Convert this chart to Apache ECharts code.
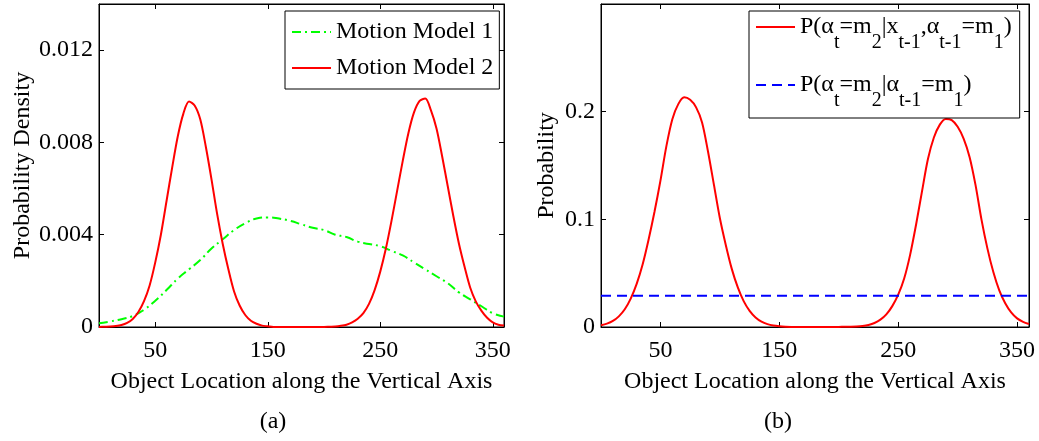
<!DOCTYPE html>
<html>
<head>
<meta charset="utf-8">
<script src="https://cdn.jsdelivr.net/npm/echarts@6/dist/echarts.min.js"></script>
<style>
  html, body { margin: 0; padding: 0; background: #fff; }
  #chart { width: 1039px; height: 441px; }
</style>
</head>
<body>
<div id="chart"></div>
<script>
// sample locations (object location along the vertical axis)
const xsCoarse = [0, 10, 20, 30, 40, 50, 60, 70, 80, 90, 100, 110, 120, 130, 140, 150, 160, 170, 180,
  190, 200, 210, 220, 230, 240, 250, 260, 270, 280, 290, 300, 310, 320, 330, 340, 350, 360]
const xsFine = [0, 5, 10, 15, 20, 25, 30, 35, 40, 45, 50, 55, 60, 65, 70, 75, 80, 85, 90, 95, 100,
  105, 110, 115, 120, 125, 130, 135, 140, 145, 150, 155, 160, 165, 170, 175, 180, 185, 190, 195, 200,
  205, 210, 215, 220, 225, 230, 235, 240, 245, 250, 255, 260, 265, 270, 275, 280, 285, 290, 295, 300,
  305, 310, 315, 320, 325, 330, 335, 340, 345, 350, 355, 360]

// (a) probability densities
const motionModel1 = [0.00016, 0.00024, 0.00034, 0.00048, 0.00075, 0.00114, 0.0016, 0.0021, 0.0025,
  0.0029, 0.0034, 0.0038, 0.0042, 0.0045, 0.0047, 0.00475, 0.0047, 0.0046, 0.00445, 0.0043, 0.0042,
  0.0040, 0.0039, 0.0037, 0.0036, 0.0035, 0.0033, 0.0031, 0.0028, 0.0025, 0.0022, 0.0019, 0.0015,
  0.0012, 0.0009, 0.0006, 0.00045]
const motionModel2 = [0, 0.00001, 0.00002, 0.00004, 0.000085, 0.00018, 0.00035, 0.00065, 0.00112,
  0.0018, 0.0028, 0.0040, 0.00545, 0.0069, 0.00826, 0.00925, 0.00977, 0.0096, 0.0090, 0.0078, 0.0064,
  0.0049, 0.0036, 0.0025, 0.00155, 0.00093, 0.00052, 0.00027, 0.00014, 0.00006, 0.00003, 0, 0, 0,
  0, 0, 0, 0, 0, 0, 0, 0.00001, 0.00002, 0.00005, 0.0001, 0.0002, 0.00036, 0.0006, 0.0010, 0.0016,
  0.0024, 0.0034, 0.0046, 0.0059, 0.0072, 0.0084, 0.0093, 0.0098, 0.0099, 0.0094, 0.0086, 0.0074,
  0.0061, 0.0048, 0.0036, 0.0026, 0.0017, 0.0011, 0.0007, 0.0004, 0.0002, 0.0001, 0.00006]

// (b) switching probabilities
const posterior = [0.0016, 0.0031, 0.0056, 0.0099, 0.0165, 0.0264, 0.040, 0.058, 0.081, 0.107,
  0.136, 0.168, 0.193, 0.207, 0.2133, 0.211, 0.204, 0.19, 0.163, 0.132, 0.101, 0.076, 0.054, 0.037,
  0.024, 0.015, 0.0089, 0.005, 0.0027, 0.0014, 0.0007, 0.0003, 0.0001, 0, 0, 0, 0, 0, 0, 0, 0.0001,
  0.0002, 0.0003, 0.0005, 0.00095, 0.0019, 0.0037, 0.0068, 0.0117, 0.0194, 0.030, 0.045, 0.067,
  0.095, 0.126, 0.156, 0.176, 0.188, 0.1932, 0.1922, 0.186, 0.175, 0.158, 0.132, 0.1, 0.073, 0.051,
  0.034, 0.022, 0.0135, 0.008, 0.0048, 0.0028]
const priorX = [0, 360]
const prior = [0.029, 0.029]

// tick labels
const xTicks = [50, 150, 250, 350]

const FONT = 'Liberation Serif'
const pairs = (x, y) => x.map((v, i) => [v, y[i]])

const nameA1 = 'Motion Model 1'
const nameA2 = 'Motion Model 2'
const nameB1 = 'P(αt=m2|xt-1,αt-1=m1)'
const nameB2 = 'P(αt=m2|αt-1=m1)'

const richLegend = {
  n: { fontFamily: FONT, fontSize: 24, color: '#000' },
  s: { fontFamily: FONT, fontSize: 20, color: '#000', padding: [32, 0, 0, 0] }
}

function bottomX(gridIndex) {
  return {
    type: 'value', gridIndex: gridIndex, min: 0, max: 360,
    name: 'Object Location along the Vertical Axis',
    nameLocation: 'middle', nameGap: 43,
    nameTextStyle: { fontFamily: FONT, fontSize: 24, color: '#000' },
    axisLine: { show: true, onZero: false, lineStyle: { color: '#000', width: 1 } },
    axisTick: { show: true, inside: true, length: 5, customValues: xTicks, lineStyle: { color: '#000' } },
    axisLabel: { customValues: xTicks, fontFamily: FONT, fontSize: 24, color: '#000', margin: 12 },
    splitLine: { show: false }
  }
}
function topX(gridIndex) {
  return {
    type: 'value', gridIndex: gridIndex, min: 0, max: 360, position: 'top',
    axisLine: { show: true, onZero: false, lineStyle: { color: '#000', width: 1 } },
    axisTick: { show: true, inside: true, length: 5, customValues: xTicks, lineStyle: { color: '#000' } },
    axisLabel: { show: false },
    splitLine: { show: false }
  }
}
function leftY(gridIndex, max, interval, name, gap) {
  return {
    type: 'value', gridIndex: gridIndex, min: 0, max: max, interval: interval,
    name: name, nameLocation: 'middle', nameGap: gap,
    nameTextStyle: { fontFamily: FONT, fontSize: 24, color: '#000' },
    axisLine: { show: true, onZero: false, lineStyle: { color: '#000', width: 1 } },
    axisTick: { show: true, inside: true, length: 5, lineStyle: { color: '#000' } },
    axisLabel: { fontFamily: FONT, fontSize: 24, color: '#000', margin: 6, showMaxLabel: false },
    splitLine: { show: false }
  }
}
function rightY(gridIndex, max, interval) {
  return {
    type: 'value', gridIndex: gridIndex, min: 0, max: max, interval: interval, position: 'right',
    axisLine: { show: true, onZero: false, lineStyle: { color: '#000', width: 1 } },
    axisTick: { show: true, inside: true, length: 5, lineStyle: { color: '#000' } },
    axisLabel: { show: false },
    splitLine: { show: false }
  }
}

const chart = echarts.init(document.getElementById('chart'))
chart.setOption({
  animation: false,
  backgroundColor: '#fff',
  grid: [
    { left: 99, top: 4, width: 405, height: 323, show: true, borderColor: '#000', borderWidth: 1 },
    { left: 601, top: 4, width: 428, height: 323, show: true, borderColor: '#000', borderWidth: 1 }
  ],
  xAxis: [bottomX(0), topX(0), bottomX(1), topX(1)],
  yAxis: [
    leftY(0, 0.014, 0.004, 'Probability Density', 64),
    rightY(0, 0.014, 0.004),
    leftY(1, 0.3, 0.1, 'Probability', 42),
    rightY(1, 0.3, 0.1)
  ],
  legend: [
    {
      data: [nameA1, nameA2], orient: 'vertical', left: 285, top: 11,
      itemWidth: 39, itemHeight: 14, itemGap: 12,
      padding: [9, 6, 9, 6],
      itemStyle: { opacity: 0 },
      backgroundColor: '#fff', borderColor: '#000', borderWidth: 1,
      textStyle: { fontFamily: FONT, fontSize: 24, color: '#000' }
    },
    {
      data: [nameB1, nameB2], orient: 'vertical', left: 749, top: 11,
      itemWidth: 39, itemHeight: 14, itemGap: 20,
      padding: [4, 8, 7, 6],
      itemStyle: { opacity: 0 },
      backgroundColor: '#fff', borderColor: '#000', borderWidth: 1,
      textStyle: { fontFamily: FONT, fontSize: 24, color: '#000', rich: richLegend },
      formatter: function (name) {
        if (name === nameB1) {
          return '{n|P(α}{s|t}{n|=m}{s|2}{n||x}{s|t-1}{n|,α}{s|t-1}{n|=m}{s|1}{n|)}'
        }
        return '{n|P(α}{s|t}{n|=m}{s|2}{n||α}{s|t-1}{n|=m}{s|1}{n|)}'
      }
    }
  ],
  graphic: [
    { type: 'text', x: 273, y: 422, style: { text: '(a)', font: '24px "Liberation Serif"', fill: '#000', align: 'center', verticalAlign: 'middle' } },
    { type: 'text', x: 778, y: 422, style: { text: '(b)', font: '24px "Liberation Serif"', fill: '#000', align: 'center', verticalAlign: 'middle' } }
  ],
  series: [
    {
      name: nameA1, type: 'line', xAxisIndex: 0, yAxisIndex: 0,
      data: pairs(xsCoarse, motionModel1), smooth: 0.5, symbol: 'none',
      lineStyle: { color: '#00ff00', width: 2, type: [9, 4, 2, 4] }, itemStyle: { color: '#00ff00' }
    },
    {
      name: nameA2, type: 'line', xAxisIndex: 0, yAxisIndex: 0,
      data: pairs(xsFine, motionModel2), smooth: 0.3, symbol: 'none',
      lineStyle: { color: '#ff0000', width: 2 }, itemStyle: { color: '#ff0000' }
    },
    {
      name: nameB1, type: 'line', xAxisIndex: 2, yAxisIndex: 2,
      data: pairs(xsFine, posterior), smooth: 0.3, symbol: 'none',
      lineStyle: { color: '#ff0000', width: 2 }, itemStyle: { color: '#ff0000' }
    },
    {
      name: nameB2, type: 'line', xAxisIndex: 2, yAxisIndex: 2,
      data: pairs(priorX, prior), symbol: 'none',
      lineStyle: { color: '#0000ff', width: 2, type: [10, 6] }, itemStyle: { color: '#0000ff' }
    }
  ]
})
</script>
</body>
</html>
